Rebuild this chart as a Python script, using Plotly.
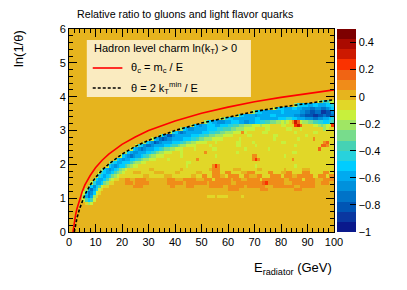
import plotly.graph_objects as go

# ---------------- data ----------------
X_RANGE = [0, 100]          # E_radiator (GeV)
Y_RANGE = [0, 6]            # ln(1/theta)
N_XBINS = 100
N_YBINS = 60
Z_MIN, Z_MAX = -1.0, 0.5

# colour levels of the discrete palette (bottom -> top of the colour bar)
LEVEL_CHARS = "0123456789abc.defghi"
LEVEL_COLORS = [
    "#0A198C", "#0A37A0", "#0055B4", "#0073C8", "#0091DC",
    "#00AAF0", "#00CDFF", "#28D2DC", "#46D2B4", "#78DC8C",
    "#A0E664", "#C8F03C", "#E1D728", "#E6B41E", "#F08C19",
    "#F06414", "#FA3200", "#CD1900", "#AA0A00", "#7D0000",
]

# heat-map rows (run-length coded level chars), row 0 = ln(1/theta) in [0,0.1)
ROWS = [
    "100.", "100.", "100.", "100.", "100.", "100.", "100.", "100.",
    "6. 1c 1a 1b 91.",
    "5. 1b 18 16 18 1b 90.",
    "5. 1a 15 13 15 1a 1c 41. 3c 1. 4c 5. 1c 34.",
    "5. 1b 16 13 14 16 1b 1c 88.",
    "6. 1a 15 13 15 17 1b 1c 37. 10. 4d 8. 3d 10. 3d 12.",
    "7. 1a 16 14 16 18 1b 2c 9. 4d 10. 2d 4. 3d 3. 3. 5d 2. 6d 1. 7d 3. 8d 2. 6d 7.",
    "8. 1b 17 15 15 16 19 1a 2c 4. 3d 1. 5d 7. 6d 1. 6d 2d 1. 8d 2. 10d 1e 1f 6d 3. 9d 2. 3d 2.",
    "9. 1a 16 15 15 16 18 1a 1b 2c 2. 2d 2. 4d 8. 3d 3. 5d 2. 1. 3d 1c 6d 1. 3d 2. 5d 1c 8d 2. 5d 1c 4d 3. 4d",
    "10. 1b 17 16 15 16 17 19 1a 1b 1c 3c 5c 2. 6c 3. 7c 2. 2c 2d 2c 3d 2. 1c 4d 2c 2d 3. 2d 3c 4d 1c 3d 2. 6d 2c 3d 1c 2d",
    "11. 1b 17 16 25 16 18 19 1a 1b 3c 3. 5c 4. 4c 2. 6c 2. 4c 3d 2c 2d 4c 2. 3d 5c 2d 3c 2. 2d 4c 3d 5c 2d 2c",
    "12. 1a 16 15 14 15 16 17 19 1a 1b 8c 2. 10c 1. 7c 3c 1. 3d 5c 3. 6c 2. 8c 1. 6c 3. 9c",
    "14. 1b 16 15 14 15 16 16 18 19 1a 2b 18c 1b 9c 1d 1f 1d 13c 1b 14c 1b 14c",
    "15. 1a 17 16 25 16 26 18 19 2a 2b 15c 2b 54c",
    "17. 1a 16 15 14 15 15 26 17 18 19 2a 3b 4c 1b 10c 1d 20c 1d 1f 1d 12c 1d 15c",
    "19. 1b 16 15 14 13 14 25 16 17 18 19 2a 3b 6c 1b 12c 1b 13c 2d 10c 1b 18c",
    "21. 1a 16 15 24 15 25 26 17 18 19 2a 3b 3c 1b 8c 1d 11c 1b 20c 2b 14c",
    "23. 1b 16 15 14 13 14 15 25 26 17 18 29 2a 3b 4c 1b 6c 2b 10c 1b 8c 1b 18c 1e 5c",
    "25. 1b 17 16 14 23 14 25 25 26 17 28 19 2a 4b 5c 1b 9c 2b 5c 1b 14c 1b 9c 2e 1d 2c",
    "28. 1a 16 15 14 12 13 14 25 25 36 17 18 29 2a 4b 3c 1b 7c 2b 4c 1b 10c 2b 14c 1d 1e 2c",
    "31. 1b 16 15 13 12 13 24 25 25 36 27 18 29 3a 4b 6c 1b 12c 1b 8c 1b 5c 1d 7c",
    "34. 1a 16 14 22 14 15 25 35 36 27 28 29 3a 4b 5c 2b 8c 2b 10c 1b 10c",
    "38. 1b 17 16 14 13 14 35 35 36 27 28 29 3a 3b 1d 1b 6c 2b 10c 1b 6c 2b 6c",
    "42. 1a 16 15 24 25 35 46 27 38 29 3a 4b 4c 2b 6c 2b 3c 1b 8c 1a 1b 2c",
    "46. 1b 16 15 14 25 36 25 36 27 28 29 3a 3b 1a 3b 4c 2b 3c 1f 1g 1e 4c 2b 1a 19 1a 2b 1f",
    "51. 1a 17 16 25 34 25 36 25 24 25 26 27 28 29 2a 1b 1a 1b 1c 1d 1g 1e 1b 2a 29 28 27 26 17 18",
    "57. 1b 1a 17 26 35 25 35 26 35 25 25 36 27 26 35 34 23 24 25 16 17",
    "63. 1b 17 16 25 25 14 25 35 26 35 25 25 24 23 32 21 22 13 22 13",
    "69. 1a 17 26 25 35 25 16 25 25 25 24 23 22 23 21 22 14",
    "77. 1b 17 26 35 26 25 34 23 24 23 14 15 16",
    "85. 1a 17 36 25 26 35 26 17",
    "94. 1b 1a 17 18 1a 1b",
] + ["100."] * 21

# curves
RED_E = [1.5, 2, 2.5, 3, 4, 5, 6, 8, 10, 12.5, 15, 20, 25, 30, 40, 50, 60, 70, 80, 90, 100]
RED_Y = [0.0, 0.29, 0.51, 0.69, 0.98, 1.20, 1.39, 1.67, 1.90, 2.12, 2.30, 2.59, 2.81, 3.00,
         3.28, 3.51, 3.69, 3.85, 3.98, 4.09, 4.20]
DASH_E = [2, 2.5, 3, 4, 5, 6, 8, 10, 12.5, 15, 20, 25, 30, 40, 50, 60, 70, 80, 90, 100]
DASH_Y = [0.0, 0.22, 0.41, 0.69, 0.92, 1.10, 1.39, 1.61, 1.83, 2.01, 2.30, 2.53, 2.71,
          3.00, 3.22, 3.40, 3.56, 3.69, 3.81, 3.91]

CBAR_TICKS = [-1, -0.8, -0.6, -0.4, -0.2, 0, 0.2, 0.4]
X_TICKS = [0, 10, 20, 30, 40, 50, 60, 70, 80, 90, 100]
Y_TICKS = [0, 1, 2, 3, 4, 5, 6]

TITLE = "Relative ratio to gluons and light flavor quarks"
X_TITLE = "E<sub>radiator</sub> (GeV)"
Y_TITLE = "ln(1/θ)"
LEG_HEADER = "Hadron level charm ln(k<sub>T</sub>) > 0"
LEG_RED = "θ<sub>c</sub> = m<sub>c</sub> / E"
LEG_DASH = "θ = 2 k<sub>T</sub><sup>min</sup> / E"

# ---------------- build ----------------
nlev = len(LEVEL_CHARS)
step = (Z_MAX - Z_MIN) / nlev


def decode(row):
    out = ""
    for tok in row.split():
        out += tok[-1] * int(tok[:-1])
    out = (out + "." * N_XBINS)[:N_XBINS]
    return [Z_MIN + (LEVEL_CHARS.index(ch) + 0.5) * step for ch in out]


z = [decode(r) for r in ROWS]
dx = (X_RANGE[1] - X_RANGE[0]) / N_XBINS
dy = (Y_RANGE[1] - Y_RANGE[0]) / N_YBINS
xc = [X_RANGE[0] + (i + 0.5) * dx for i in range(N_XBINS)]
yc = [Y_RANGE[0] + (j + 0.5) * dy for j in range(N_YBINS)]

cs = []
for k, col in enumerate(LEVEL_COLORS):
    cs.append([k / nlev, col])
    cs.append([(k + 1) / nlev, col])

FONT = "Liberation Sans, Arial, Helvetica, sans-serif"

fig = go.Figure()
fig.add_trace(go.Heatmap(
    x=xc, y=yc, z=z, zmin=Z_MIN, zmax=Z_MAX, colorscale=cs, zsmooth=False,
    hoverinfo="skip",
    colorbar=dict(
        x=1 + 3 / 268, xanchor="left", xpad=0, ypad=0, y=0.5, yanchor="middle",
        len=1, lenmode="fraction", thickness=19, thicknessmode="pixels",
        outlinewidth=0, ticks="inside", ticklen=6, tickcolor="black", tickwidth=1,
        tickvals=CBAR_TICKS, tickfont=dict(size=11, color="black", family=FONT),
    ),
))
fig.add_trace(go.Scatter(x=RED_E, y=RED_Y, mode="lines",
                         line=dict(color="#FF0000", width=1.6), hoverinfo="skip",
                         showlegend=False))
fig.add_trace(go.Scatter(x=DASH_E, y=DASH_Y, mode="lines",
                         line=dict(color="black", width=1.6, dash="3px,2px"),
                         hoverinfo="skip", showlegend=False))

axis_common = dict(
    showgrid=False, zeroline=False, showline=True, linecolor="black", linewidth=1,
    mirror="ticks", ticks="inside", ticklen=8, tickcolor="black", tickwidth=1,
    tickfont=dict(size=11, color="black", family=FONT),
)
fig.update_xaxes(range=X_RANGE, tickvals=X_TICKS,
                 minor=dict(ticks="inside", ticklen=4, dtick=2, tick0=0, tickcolor="black"),
                 **axis_common)
fig.update_yaxes(range=Y_RANGE, tickvals=Y_TICKS,
                 minor=dict(ticks="inside", ticklen=4, dtick=0.2, tick0=0, tickcolor="black"),
                 **axis_common)

# the page body has an 8 px margin; the figure is sized so that the plot area
# lands at x 69..337, y 29..232 of the 407x290 window
OFF = 8
W, H = 407 - 2 * OFF, 290 - 2 * OFF
PL, PT, PR, PB = 69, 29, 337, 232          # plot area in window pixels
L, T = PL - OFF, PT - OFF
pw, ph = PR - PL, PB - PT
R, B = W - L - pw, H - T - ph


def px(xp):
    return (xp - PL) / pw


def py(yp):
    return (PB - yp) / ph


shapes = [
    dict(type="rect", xref="paper", yref="paper", x0=px(87), x1=px(253), y0=py(97), y1=py(40),
         fillcolor="#FAEBC0", line=dict(width=0), layer="above"),
    dict(type="line", xref="paper", yref="paper", x0=px(93), x1=px(123), y0=py(68), y1=py(68),
         line=dict(color="#FF0000", width=1.6), layer="above"),
    dict(type="line", xref="paper", yref="paper", x0=px(93), x1=px(123), y0=py(88), y1=py(88),
         line=dict(color="black", width=1.6, dash="3px,2px"), layer="above"),
]

ann = [
    dict(text=TITLE, x=px(75), y=py(14), xanchor="left", yanchor="middle",
         font=dict(size=10.7, color="black", family=FONT)),
    dict(text=X_TITLE, x=1.0, y=py(268), xanchor="right", yanchor="middle",
         font=dict(size=13, color="black", family=FONT)),
    dict(text=Y_TITLE, x=px(18), y=py(28), xanchor="center", yanchor="top", textangle=-90,
         font=dict(size=13, color="black", family=FONT)),
    dict(text=LEG_HEADER, x=px(92), y=py(49), xanchor="left", yanchor="middle",
         font=dict(size=11, color="black", family=FONT)),
    dict(text=LEG_RED, x=px(130), y=py(68), xanchor="left", yanchor="middle",
         font=dict(size=11, color="black", family=FONT)),
    dict(text=LEG_DASH, x=px(130), y=py(88), xanchor="left", yanchor="middle",
         font=dict(size=11, color="black", family=FONT)),
]
for a in ann:
    a.update(xref="paper", yref="paper", showarrow=False)

fig.update_layout(
    width=W, height=H, margin=dict(l=L, r=R, t=T, b=B, pad=0),
    paper_bgcolor="white", plot_bgcolor="#E6B41E",
    font=dict(family=FONT, color="black"),
    showlegend=False, shapes=shapes, annotations=ann,
)

fig.write_html("out.html")
